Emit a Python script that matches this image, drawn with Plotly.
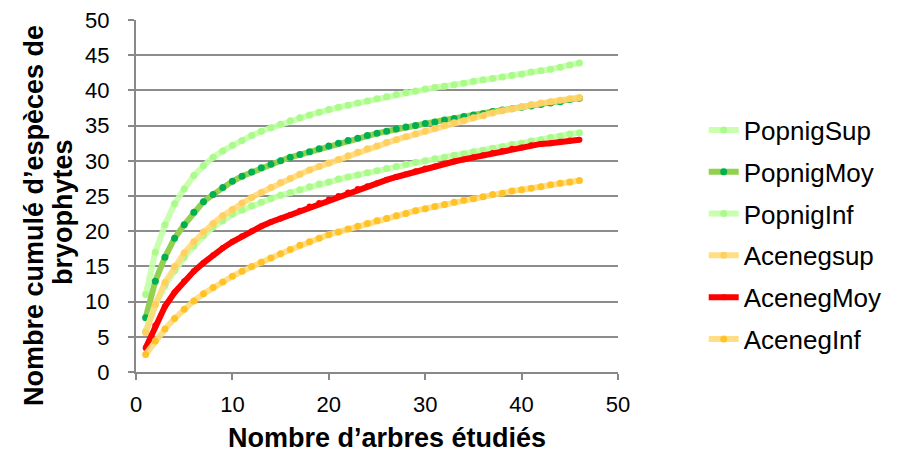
import plotly.graph_objects as go

x_trees = list(range(1, 47))

popnig_sup = [11.0, 17.0, 20.9, 23.9, 26.0, 27.9, 29.3, 30.5, 31.4, 32.2, 32.9, 33.6, 34.2, 34.7, 35.2, 35.7,
              36.1, 36.5, 36.9, 37.3, 37.6, 37.9, 38.2, 38.5, 38.8, 39.1, 39.4, 39.7, 39.9, 40.2, 40.4, 40.6,
              40.8, 41.0, 41.3, 41.5, 41.7, 41.9, 42.1, 42.3, 42.6, 42.8, 43.0, 43.3, 43.6, 43.9]
popnig_moy = [7.7, 12.9, 16.3, 19.0, 20.9, 22.7, 24.2, 25.2, 26.2, 27.1, 27.8, 28.4, 29.0, 29.5, 30.0, 30.5,
              30.9, 31.3, 31.7, 32.1, 32.5, 32.9, 33.2, 33.6, 33.9, 34.2, 34.5, 34.8, 35.0, 35.3, 35.5, 35.8,
              36.0, 36.3, 36.5, 36.7, 37.0, 37.2, 37.4, 37.6, 37.8, 38.0, 38.2, 38.4, 38.7, 38.9]
popnig_inf = [5.8, 9.5, 12.3, 14.4, 16.3, 17.9, 19.4, 20.6, 21.5, 22.4, 23.0, 23.6, 24.1, 24.6, 25.1, 25.5,
              25.9, 26.3, 26.7, 27.0, 27.4, 27.7, 28.0, 28.3, 28.6, 28.9, 29.2, 29.5, 29.8, 30.0, 30.3, 30.5,
              30.8, 31.0, 31.3, 31.5, 31.8, 32.0, 32.3, 32.5, 32.8, 33.0, 33.3, 33.5, 33.8, 34.0]
aceneg_sup = [5.6, 9.6, 12.7, 15.0, 16.9, 18.5, 19.9, 21.1, 22.2, 23.1, 24.0, 24.8, 25.5, 26.2, 26.9, 27.5,
              28.1, 28.7, 29.2, 29.7, 30.2, 30.7, 31.2, 31.7, 32.1, 32.6, 33.0, 33.4, 33.8, 34.2, 34.6, 35.0,
              35.4, 35.7, 36.1, 36.4, 36.8, 37.1, 37.4, 37.7, 38.0, 38.2, 38.4, 38.6, 38.8, 39.0]
aceneg_moy = [3.4, 6.6, 9.3, 11.3, 12.9, 14.3, 15.5, 16.6, 17.6, 18.5, 19.3, 20.0, 20.7, 21.3, 21.8, 22.3,
              22.9, 23.5, 24.0, 24.5, 25.0, 25.5, 26.0, 26.4, 26.8, 27.3, 27.7, 28.1, 28.5, 28.9, 29.2, 29.6,
              29.9, 30.2, 30.5, 30.8, 31.1, 31.4, 31.7, 31.9, 32.2, 32.4, 32.5, 32.7, 32.9, 33.0]
aceneg_inf = [2.5, 4.4, 6.1, 7.6, 8.9, 10.1, 11.1, 12.0, 12.8, 13.6, 14.3, 15.0, 15.6, 16.2, 16.8, 17.4,
              18.0, 18.5, 19.0, 19.5, 19.9, 20.3, 20.7, 21.1, 21.5, 21.8, 22.2, 22.5, 22.9, 23.2, 23.5, 23.8,
              24.1, 24.4, 24.6, 24.9, 25.2, 25.4, 25.7, 25.9, 26.1, 26.3, 26.6, 26.8, 27.0, 27.2]

x_title = "Nombre d’arbres étudiés"
y_title_lines = ["Nombre cumulé d’espèces de", "bryophytes"]

series = [
    ("PopnigSup", popnig_sup, "rgba(195,255,165,0.9)", "rgb(170,250,140)", 7, 6),
    ("PopnigMoy", popnig_moy, "rgb(146,208,80)", "rgb(0,176,80)", 7, 6),
    ("PopnigInf", popnig_inf, "rgba(195,255,165,0.9)", "rgb(170,250,140)", 7, 6),
    ("Acenegsup", aceneg_sup, "rgba(255,218,120,0.9)", "rgb(255,208,95)", 7, 6),
    ("AcenegMoy", aceneg_moy, "rgb(255,0,0)", "rgb(255,0,0)", 6, 6),
    ("AcenegInf", aceneg_inf, "rgba(255,218,120,0.9)", "rgb(255,195,40)", 7, 6),
]

fig = go.Figure()
for i, (name, ys, lc, mc, ms, lw) in enumerate(series):
    fig.add_trace(go.Scatter(
        x=x_trees, y=ys, name=name, mode="lines+markers",
        line=dict(color=lc, width=lw),
        marker=dict(color=mc, size=ms),
        legendgroup=f"g{i}",
    ))

font = "Liberation Sans, Arial, sans-serif"
axis_col = "#888888"
fig.update_layout(
    width=900, height=452,
    margin=dict(l=128, r=290, t=12, b=88, autoexpand=False),
    plot_bgcolor="white", paper_bgcolor="white",
    font=dict(family=font, size=22, color="black"),
    showlegend=True,
    legend=dict(xref="container", yref="container", x=0.773, y=0.782,
                xanchor="left", yanchor="top", maxheight=440,
                font=dict(size=26, color="black"), tracegroupgap=5,
                bgcolor="rgba(0,0,0,0)"),
    xaxis=dict(range=[0, 50], tickvals=[0, 10, 20, 30, 40, 50], showgrid=False,
               showline=True, linecolor=axis_col, linewidth=2,
               ticks="outside", ticklen=6, tickcolor=axis_col, tickwidth=2,
               tickfont=dict(size=22), zeroline=False, automargin=False,
               ticklabelstandoff=6, ticklabeloverflow="allow"),
    yaxis=dict(range=[0, 50], tickvals=list(range(0, 51, 5)), showgrid=True,
               gridcolor="#8c8c8c", gridwidth=2,
               showline=True, linecolor=axis_col, linewidth=2,
               ticks="outside", ticklen=6, tickcolor=axis_col, tickwidth=2,
               tickfont=dict(size=22), zeroline=False, automargin=False,
               ticklabelstandoff=14, ticklabeloverflow="allow"),
    annotations=[
        dict(text=f"<b>{x_title}</b>", xref="paper", yref="paper", x=0.521, y=-0.1875,
             xanchor="center", yanchor="middle", showarrow=False, font=dict(size=27)),
        dict(text=f"<b>{y_title_lines[0]}</b>", xref="paper", yref="paper", x=-0.2116, y=0.443,
             xanchor="center", yanchor="middle", showarrow=False, textangle=-90, font=dict(size=27)),
        dict(text=f"<b>{y_title_lines[1]}</b>", xref="paper", yref="paper", x=-0.1515, y=0.4545,
             xanchor="center", yanchor="middle", showarrow=False, textangle=-90, font=dict(size=27)),
    ],
)

fig.write_html("out.html")
